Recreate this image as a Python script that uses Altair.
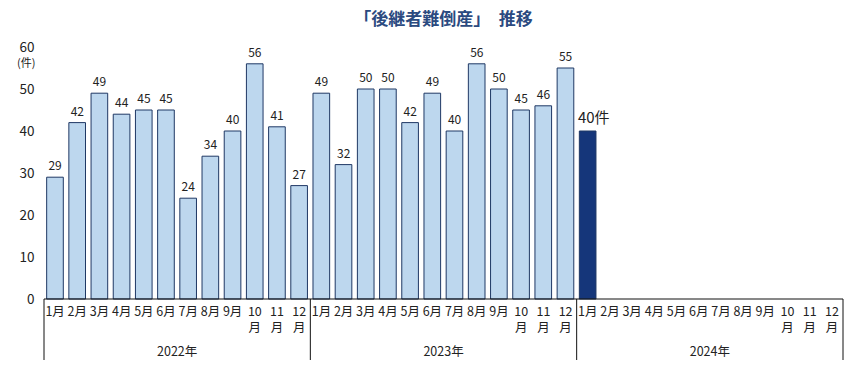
import altair as alt
import pandas as pd

years = ["2022年", "2023年", "2024年"]
months = ["1月", "2月", "3月", "4月", "5月", "6月", "7月", "8月", "9月", "10\n月", "11\n月", "12\n月"]
values_2022 = [29, 42, 49, 44, 45, 45, 24, 34, 40, 56, 41, 27]
values_2023 = [49, 32, 50, 50, 42, 49, 40, 56, 50, 45, 46, 55]
values_2024 = [40]
y_ticks = [0, 10, 20, 30, 40, 50, 60]

FONT = "Noto Sans CJK JP"
W, H = 799, 252

rows = []
for yi, vals in enumerate([values_2022, values_2023, values_2024]):
    for mi, v in enumerate(vals):
        rows.append({"idx": yi * 12 + mi, "value": v, "latest": yi == 2})
bars_df = pd.DataFrame(rows)

mrows = []
for yi in range(3):
    for mi, m in enumerate(months):
        parts = m.split("\n")
        mrows.append({"idx": yi * 12 + mi, "line": 0, "label": parts[0]})
        if len(parts) > 1:
            mrows.append({"idx": yi * 12 + mi, "line": 1, "label": parts[1]})
month_df = pd.DataFrame(mrows)
year_df = pd.DataFrame([{"idx": yi * 12, "label": y} for yi, y in enumerate(years)])
bound_df = pd.DataFrame({"pos": [0, 12, 24, 36], "zero": [0, 0, 0, 0]})

xscale = alt.Scale(domain=[0, 36], nice=False, zero=False)
yscale = alt.Scale(domain=[0, 60], nice=False)

base = alt.Chart(bars_df).transform_calculate(
    x0="datum.idx + 0.12", x1="datum.idx + 0.87", xc="datum.idx + 0.5"
)

bars = base.mark_bar(stroke="#1f3864", strokeWidth=1).encode(
    x=alt.X("x0:Q", scale=xscale, axis=None),
    x2="x1:Q",
    y=alt.Y("value:Q", scale=yscale,
            axis=alt.Axis(values=y_ticks, domain=False, ticks=False, grid=False,
                          labelPadding=10, labelFontSize=13.5, labelColor="#222",
                          labelFont=FONT, title=None)),
    y2=alt.datum(0),
    color=alt.Color("latest:N", scale=alt.Scale(domain=[False, True],
                                                range=["#bdd7ee", "#15367a"]), legend=None),
)

labels = base.transform_filter("!datum.latest").mark_text(
    dy=-11, fontSize=12, font=FONT, color="#222"
).encode(x=alt.X("xc:Q", scale=xscale), y=alt.Y("value:Q", scale=yscale), text="value:Q")

latest_label = base.transform_filter("datum.latest").transform_calculate(
    t="datum.value + '件'"
).mark_text(dy=-13, dx=6, fontSize=15, font=FONT, color="#222").encode(
    x=alt.X("xc:Q", scale=xscale), y=alt.Y("value:Q", scale=yscale), text="t:N")

unit = alt.Chart(pd.DataFrame({"t": ["(件)"]})).mark_text(
    fontSize=11, font=FONT, color="#222", align="left"
).encode(x=alt.value(-27), y=alt.value(17), text="t:N")

month_top = alt.Chart(month_df).transform_filter("datum.line == 0").transform_calculate(
    xc="datum.idx + 0.5"
).mark_text(fontSize=12.5, font=FONT, color="#222", baseline="top").encode(
    x=alt.X("xc:Q", scale=xscale), y=alt.value(H + 7), text="label:N")

month_bot = alt.Chart(month_df).transform_filter("datum.line == 1").transform_calculate(
    xc="datum.idx + 0.5"
).mark_text(fontSize=12.5, font=FONT, color="#222", baseline="top").encode(
    x=alt.X("xc:Q", scale=xscale), y=alt.value(H + 23), text="label:N")

year_labels = alt.Chart(year_df).transform_calculate(
    xc="datum.idx + 6"
).mark_text(fontSize=12.5, font=FONT, color="#222", baseline="middle").encode(
    x=alt.X("xc:Q", scale=xscale), y=alt.value(H + 53), text="label:N")

baseline = alt.Chart(pd.DataFrame({"a": [0], "b": [36], "zero": [0]})).mark_rule(
    color="#111", strokeWidth=1
).encode(x=alt.X("a:Q", scale=xscale), x2="b:Q", y=alt.Y("zero:Q", scale=yscale))

bounds = alt.Chart(bound_df).mark_rule(color="#111", strokeWidth=1).encode(
    x=alt.X("pos:Q", scale=xscale), y=alt.Y("zero:Q", scale=yscale), y2=alt.value(H + 62))

chart = alt.layer(bars, labels, latest_label, unit, month_top, month_bot, year_labels,
                  baseline, bounds).properties(
    width=W, height=H,
    title=alt.TitleParams("「後継者難倒産」　推移", font=FONT, fontSize=17,
                          fontWeight="bold", color="#2b4a80", anchor="middle", offset=11),
    autosize=alt.AutoSizeParams(type="none"),
    padding={"left": 36, "top": 39, "right": 10, "bottom": 61},
).configure_view(stroke=None)

chart.save("out.html", embed_options={"renderer": "svg", "actions": False})
